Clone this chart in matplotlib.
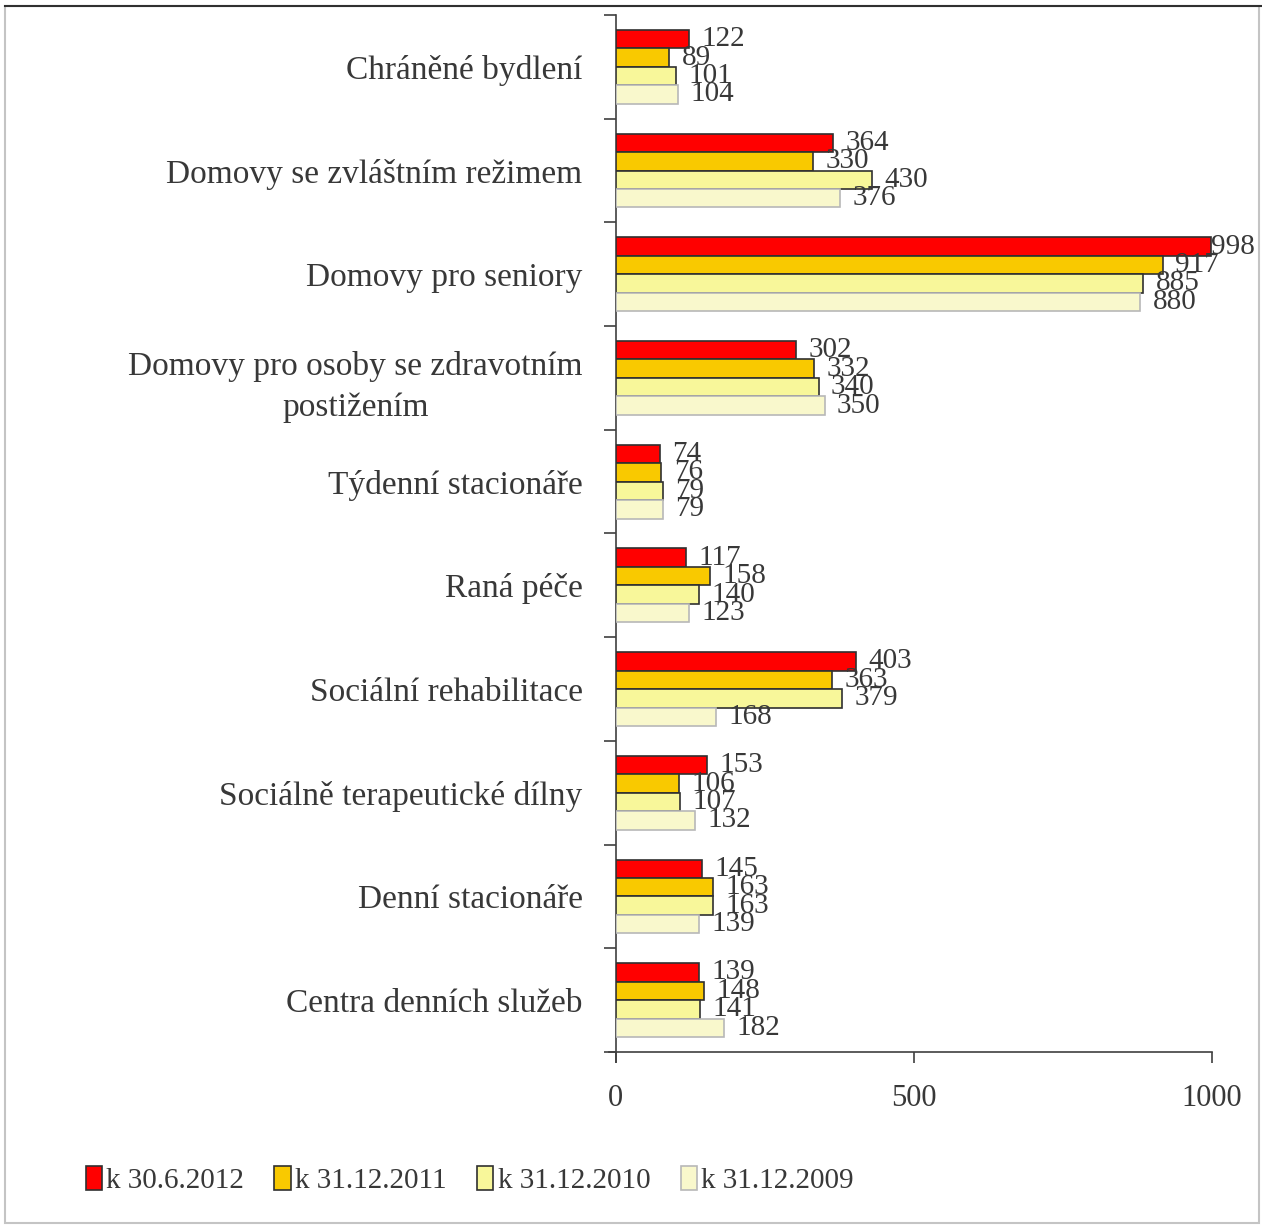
import numpy as np
import matplotlib.pyplot as plt
from matplotlib.patches import Patch, Rectangle
from matplotlib.lines import Line2D

plt.rcParams['font.family'] = ['Liberation Serif', 'DejaVu Serif']

categories = [
    'Chráněné bydlení',
    'Domovy se zvláštním režimem',
    'Domovy pro seniory',
    'Domovy pro osoby se zdravotním\npostižením',
    'Týdenní stacionáře',
    'Raná péče',
    'Sociální rehabilitace',
    'Sociálně terapeutické dílny',
    'Denní stacionáře',
    'Centra denních služeb',
]
k_2012_06 = [122, 364, 998, 302, 74, 117, 403, 153, 145, 139]
k_2011_12 = [89, 330, 917, 332, 76, 158, 363, 106, 163, 148]
k_2010_12 = [101, 430, 885, 340, 79, 140, 379, 107, 163, 141]
k_2009_12 = [104, 376, 880, 350, 79, 123, 168, 132, 139, 182]
series_names = ['k 30.6.2012', 'k 31.12.2011', 'k 31.12.2010', 'k 31.12.2009']

series = [k_2012_06, k_2011_12, k_2010_12, k_2009_12]
fills = ['#ff0000', '#f9c900', '#f8f79a', '#f9f8cc']
edges = ['#303030', '#303030', '#303030', '#b8b8b8']

fig = plt.figure(figsize=(12.62, 12.25), dpi=100)
ax = fig.add_axes([0.488, 0.1412, 0.4724, 0.8466])

y = np.arange(len(categories))
h = 0.178
for j, (vals, fc, ec) in enumerate(zip(series, fills, edges)):
    pos = y + (j - 1.5) * h
    ax.barh(pos, vals, height=h, color=fc, edgecolor=ec, linewidth=1.2, zorder=3)
    for p, v in zip(pos, vals):
        off = 0 if v > 980 else 9
        ax.annotate(str(v), (v, p), xytext=(off, 0), textcoords='offset points',
                    ha='left', va='center', fontsize=21, color='#383838', zorder=4)

ax.set_xlim(0, 1000)
ax.set_ylim(len(categories) - 0.5, -0.5)
ax.set_xticks([0, 500, 1000])
ax.tick_params(axis='x', direction='out', length=8, width=1.2, color='#404040',
               labelsize=22, labelcolor='#383838', pad=15)

# ticks at category boundaries, labels at centres
ax.set_yticks(np.arange(len(categories) + 1) - 0.5)
ax.set_yticklabels([])
ax.tick_params(axis='y', which='major', direction='out', length=9, width=1.2, color='#404040')
ax.set_yticks(y, minor=True)
ax.set_yticklabels(categories, minor=True, fontsize=24, color='#383838',
                   multialignment='center', linespacing=1.45)
ax.tick_params(axis='y', which='minor', length=0, pad=24)

for s in ['top', 'right']:
    ax.spines[s].set_visible(False)
ax.spines['left'].set_color('#404040')
ax.spines['left'].set_linewidth(1.2)
ax.spines['bottom'].set_color('#404040')
ax.spines['bottom'].set_linewidth(1.2)
ax.spines['bottom'].set_bounds(-12, 1000)
ax.spines['left'].set_bounds(len(categories) - 0.5 + 0.1, -0.5)

handles = [Patch(facecolor=fc, edgecolor=ec, linewidth=1.2) for fc, ec in zip(fills, edges)]
fig.legend(handles, series_names, loc='center left', bbox_to_anchor=(0.047, 0.037),
           ncol=4, frameon=False, fontsize=21, handlelength=0.55, handleheight=0.9,
           handletextpad=0.15, columnspacing=1.05, labelcolor='#383838')

# chart frame
fig.patches.append(Rectangle((0.004, 0.002), 0.994, 0.993, transform=fig.transFigure,
                             fill=False, edgecolor='#c4c4c4', linewidth=1.5))
fig.lines.append(Line2D([0.004, 1.0], [0.9955, 0.9955], transform=fig.transFigure,
                        color='#303030', linewidth=1.5))

fig.savefig('out.png', dpi=100)
